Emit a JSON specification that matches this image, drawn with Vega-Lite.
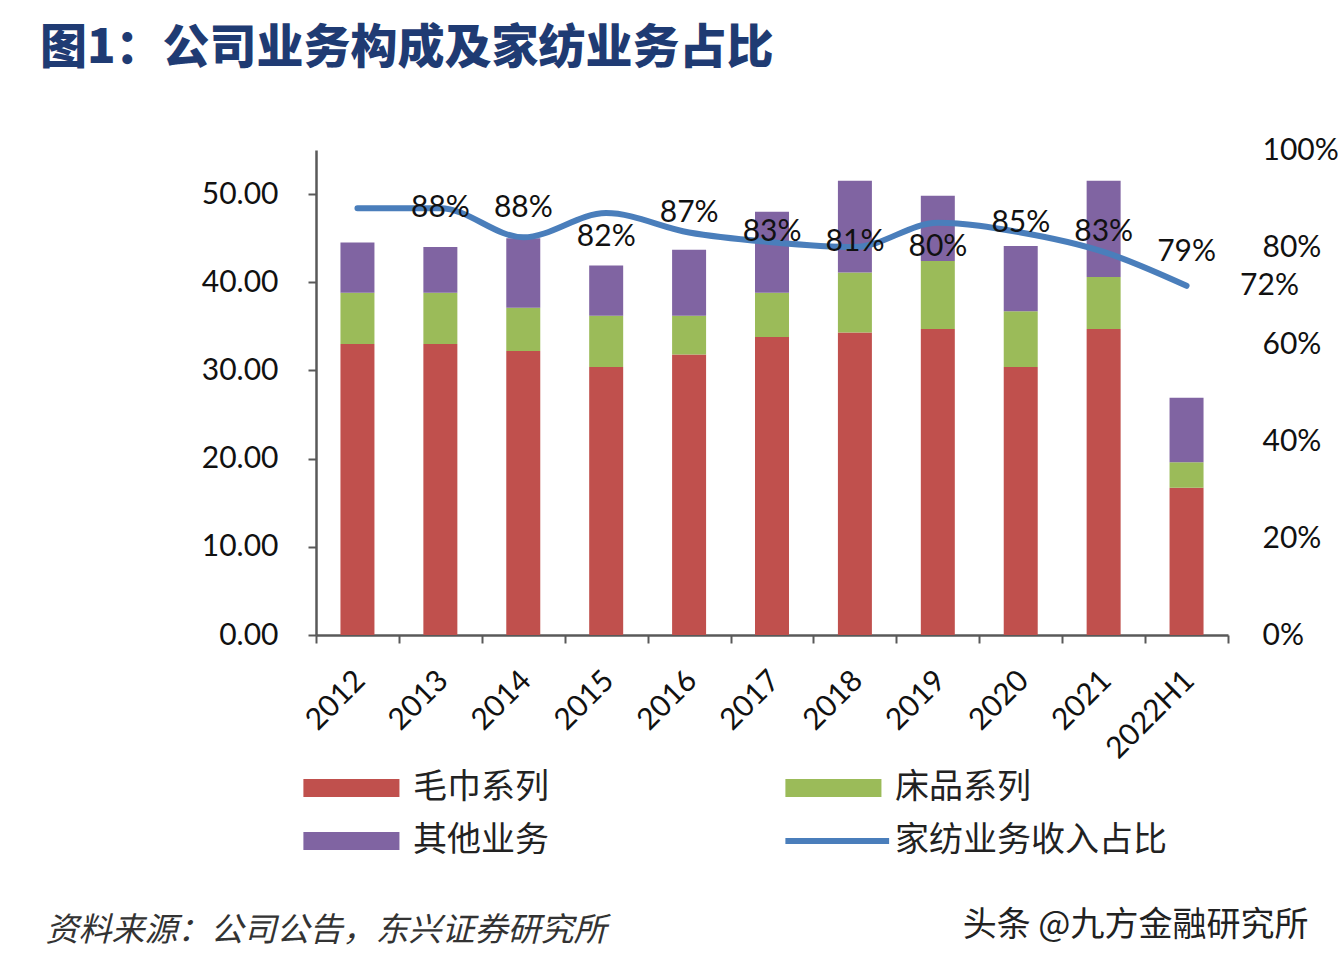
{
  "$schema": "https://vega.github.io/schema/vega-lite/v6.json",
  "width": 912,
  "height": 485,
  "autosize": {"type": "none"},
  "padding": {"left": 316, "top": 150, "right": 110, "bottom": 335},
  "background": "white",
  "title": {
    "text": "图1：公司业务构成及家纺业务占比",
    "anchor": "start",
    "frame": "group",
    "dx": -276,
    "offset": 62,
    "fontSize": 47,
    "font": "Noto Sans CJK SC",
    "fontWeight": 900,
    "color": "#1F3B73"
  },
  "datasets": {
    "bars": [
      {"year": "2012", "series": "毛巾系列", "value": 33.0},
      {"year": "2012", "series": "床品系列", "value": 5.8},
      {"year": "2012", "series": "其他业务", "value": 5.7},
      {"year": "2013", "series": "毛巾系列", "value": 33.0},
      {"year": "2013", "series": "床品系列", "value": 5.8},
      {"year": "2013", "series": "其他业务", "value": 5.2},
      {"year": "2014", "series": "毛巾系列", "value": 32.2},
      {"year": "2014", "series": "床品系列", "value": 4.9},
      {"year": "2014", "series": "其他业务", "value": 7.9},
      {"year": "2015", "series": "毛巾系列", "value": 30.4},
      {"year": "2015", "series": "床品系列", "value": 5.8},
      {"year": "2015", "series": "其他业务", "value": 5.7},
      {"year": "2016", "series": "毛巾系列", "value": 31.8},
      {"year": "2016", "series": "床品系列", "value": 4.4},
      {"year": "2016", "series": "其他业务", "value": 7.5},
      {"year": "2017", "series": "毛巾系列", "value": 33.8},
      {"year": "2017", "series": "床品系列", "value": 5.0},
      {"year": "2017", "series": "其他业务", "value": 9.2},
      {"year": "2018", "series": "毛巾系列", "value": 34.3},
      {"year": "2018", "series": "床品系列", "value": 6.8},
      {"year": "2018", "series": "其他业务", "value": 10.4},
      {"year": "2019", "series": "毛巾系列", "value": 34.7},
      {"year": "2019", "series": "床品系列", "value": 7.7},
      {"year": "2019", "series": "其他业务", "value": 7.4},
      {"year": "2020", "series": "毛巾系列", "value": 30.4},
      {"year": "2020", "series": "床品系列", "value": 6.3},
      {"year": "2020", "series": "其他业务", "value": 7.4},
      {"year": "2021", "series": "毛巾系列", "value": 34.7},
      {"year": "2021", "series": "床品系列", "value": 5.9},
      {"year": "2021", "series": "其他业务", "value": 10.9},
      {"year": "2022H1", "series": "毛巾系列", "value": 16.7},
      {"year": "2022H1", "series": "床品系列", "value": 2.9},
      {"year": "2022H1", "series": "其他业务", "value": 7.3}
    ],
    "share": [
      {"year": "2012", "share": 0.88},
      {"year": "2013", "share": 0.88},
      {"year": "2014", "share": 0.82},
      {"year": "2015", "share": 0.87},
      {"year": "2016", "share": 0.83},
      {"year": "2017", "share": 0.81},
      {"year": "2018", "share": 0.80},
      {"year": "2019", "share": 0.85},
      {"year": "2020", "share": 0.83},
      {"year": "2021", "share": 0.79},
      {"year": "2022H1", "share": 0.72}
    ]
  },
  "layer": [
    {
      "data": {"name": "bars"},
      "mark": {"type": "bar", "width": {"band": 0.41}},
      "encoding": {
        "x": {
          "field": "year",
          "type": "nominal",
          "scale": {
            "domain": ["2012", "2013", "2014", "2015", "2016", "2017", "2018", "2019", "2020", "2021", "2022H1"],
            "paddingInner": 0,
            "paddingOuter": 0
          },
          "axis": {
            "title": "资料来源：公司公告，东兴证券研究所",
            "titleX": -271,
            "titleY": 295,
            "titleAlign": "left",
            "titleBaseline": "middle",
            "titleAnchor": null,
            "titleFont": "Noto Sans CJK SC",
            "titleFontSize": 33,
            "titleFontStyle": "italic",
            "titleFontWeight": "normal",
            "titleColor": "#333333",
            "labelAngle": -45,
            "labelFont": "Lato",
            "labelFontSize": 30,
            "labelColor": "#111111",
            "labelPadding": 22,
            "labelOffset": -8,
            "tickBand": "extent",
            "tickSize": 8,
            "tickColor": "#595959",
            "tickWidth": 2,
            "domainColor": "#595959",
            "domainWidth": 2.5
          }
        },
        "y": {
          "field": "value",
          "type": "quantitative",
          "stack": "zero",
          "scale": {"domain": [0, 55], "nice": false},
          "axis": {
            "title": null,
            "values": [0, 10, 20, 30, 40, 50],
            "format": ".2f",
            "grid": false,
            "labelFont": "Lato",
            "labelFontSize": 30,
            "labelColor": "#111111",
            "labelPadding": 30,
            "tickSize": 8,
            "tickColor": "#595959",
            "tickWidth": 2,
            "domainColor": "#595959",
            "domainWidth": 2.5
          }
        },
        "color": {
          "field": "series",
          "type": "nominal",
          "sort": ["毛巾系列", "床品系列", "其他业务", "家纺业务收入占比"],
          "scale": {
            "domain": ["毛巾系列", "床品系列", "其他业务", "家纺业务收入占比"],
            "range": ["#C0504D", "#9BBB59", "#8064A2", "#4A7EBB"]
          },
          "legend": {
            "title": null,
            "orient": "none",
            "direction": "horizontal",
            "legendX": -20,
            "legendY": 621,
            "columns": 2,
            "columnPadding": 229,
            "rowPadding": 19,
            "labelFont": "Noto Sans CJK SC",
            "labelFontSize": 34,
            "labelColor": "#222222",
            "labelOffset": 83,
            "labelLimit": 500,
            "symbolSize": 369,
            "symbolStrokeWidth": 0,
            "encode": {
              "symbols": {
                "update": {
                  "shape": {"signal": "datum.value === '家纺业务收入占比' ? 'M-1,-0.3H9.8V0.3H-1Z' : 'M-1,-0.94H9V0.94H-1Z'"},
                  "strokeWidth": {"value": 0}
                }
              }
            }
          }
        },
        "order": {"field": "series", "sort": "descending"}
      }
    },
    {
      "data": {"name": "share"},
      "encoding": {
        "x": {"field": "year", "type": "nominal"},
        "y": {
          "field": "share",
          "type": "quantitative",
          "scale": {"domain": [0, 1], "nice": false},
          "axis": {
            "orient": "right",
            "values": [0, 0.2, 0.4, 0.6, 0.8, 1],
            "format": ".0%",
            "grid": false,
            "domain": false,
            "ticks": false,
            "labelFont": "Lato",
            "labelFontSize": 30,
            "labelColor": "#111111",
            "labelPadding": 34,
            "title": "头条 @九方金融研究所",
            "titleAngle": 0,
            "titleX": 80,
            "titleY": 775,
            "titleAlign": "right",
            "titleBaseline": "middle",
            "titleAnchor": null,
            "titleFont": "Noto Sans CJK SC",
            "titleFontSize": 34,
            "titleFontWeight": "normal",
            "titleColor": "#222222"
          }
        }
      },
      "layer": [
        {
          "mark": {"type": "line", "color": "#4A7EBB", "strokeWidth": 6, "interpolate": "monotone", "strokeCap": "round", "strokeJoin": "round"}
        },
        {
          "mark": {"type": "text", "dx": 83, "font": "Lato", "fontSize": 30, "color": "#111111", "baseline": "middle", "align": "center"},
          "encoding": {"text": {"field": "share", "type": "quantitative", "format": ".0%"}}
        }
      ]
    }
  ],
  "resolve": {"scale": {"y": "independent"}},
  "config": {"view": {"stroke": null}}
}
